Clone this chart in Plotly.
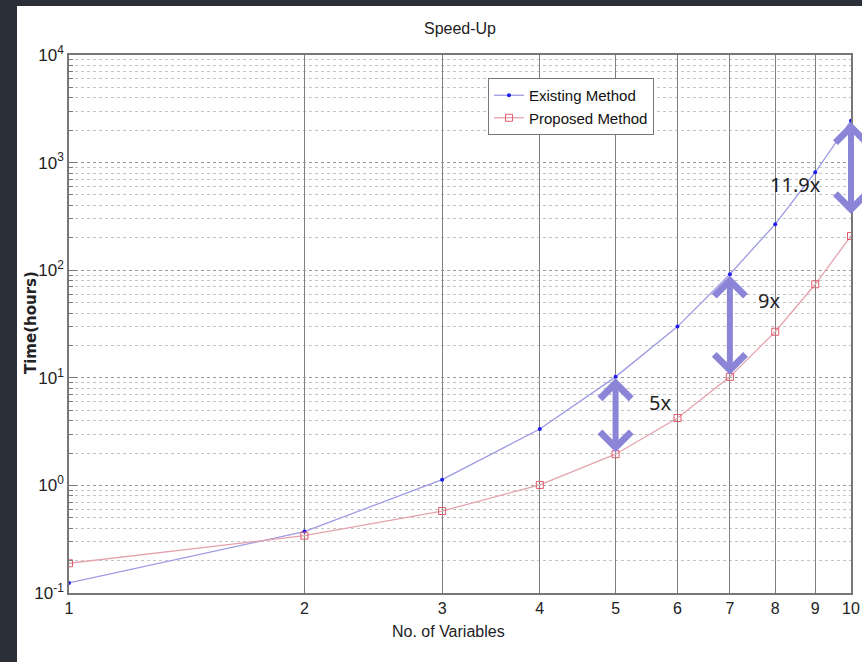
import numpy as np
import plotly.graph_objects as go

# ---------------- data ----------------
variables = [1, 2, 3, 4, 5, 6, 7, 8, 9, 10]
existing = [0.124, 0.372, 1.13, 3.34, 10.2, 29.9, 91.6, 268, 813, 2450]
proposed = [0.189, 0.341, 0.578, 1.01, 1.95, 4.23, 10.2, 26.8, 74, 208]

x_tick_vals = [1, 2, 3, 4, 5, 6, 7, 8, 9, 10]
x_tick_text = ["1", "2", "3", "4", "5", "6", "7", "8", "9", "10"]
y_tick_vals = [0.1, 1, 10, 100, 1000, 10000]
y_tick_text = ["10<sup>-1</sup>", "10<sup>0</sup>", "10<sup>1</sup>", "10<sup>2</sup>",
               "10<sup>3</sup>", "10<sup>4</sup>"]

# speed-up arrows: at which variable count, and label
speedup_at = [5, 7, 10]
speedup_labels = ["5x", "9x", "11.9x"]
label_x = [5.70, 7.85, 8.48]
label_y = [5.95, 52.8, 620]

# ---------------- styles ----------------
W, H = 862, 662
ML, MR, MT, MB = 69, 11, 55, 69
PW, PH = W - ML - MR, H - MT - MB
DARK = "#2b2f38"
COND = "Liberation Sans Narrow, Arial Narrow, Liberation Sans, sans-serif"
ARROW = "#8b85d8"
arrow_standoff = [2, 2, 22]

fig = go.Figure()
fig.add_trace(go.Scatter(
    x=variables, y=existing, name="Existing Method", mode="lines+markers",
    line=dict(color="#9d9be3", width=1.3),
    marker=dict(symbol="circle", size=4, color="#1c1cf0"),
))
fig.add_trace(go.Scatter(
    x=variables, y=proposed, name="Proposed Method", mode="lines+markers",
    line=dict(color="#e4a3ad", width=1.3),
    marker=dict(symbol="square-open", size=7, color="#e05a6a", line=dict(width=1)),
))

idx = {v: i for i, v in enumerate(variables)}
for k, v in enumerate(speedup_at):
    i = idx[v]
    lx = np.log10(v)
    top = np.log10(existing[i])
    bot = np.log10(proposed[i])
    fig.add_annotation(
        x=lx, y=bot, ax=lx, ay=top, xref="x", yref="y", axref="x", ayref="y",
        showarrow=True, arrowhead=4, startarrowhead=4, arrowside="end+start",
        arrowsize=1.0, startarrowsize=1.0, arrowwidth=6, arrowcolor=ARROW,
        standoff=arrow_standoff[k], startstandoff=0, text="",
    )
    fig.add_annotation(
        x=np.log10(label_x[k]), y=np.log10(label_y[k]), xref="x", yref="y",
        text=speedup_labels[k], showarrow=False,
        font=dict(family="Noto Sans, sans-serif", size=20, color="#1e1e1e"),
    )

# y-axis title placed as annotation
fig.add_annotation(
    x=(31 - ML) / PW, y=(MT + PH - 323) / PH, xref="paper", yref="paper", textangle=-90,
    text="<b>Time(hours)</b>", showarrow=False, xanchor="center", yanchor="middle",
    font=dict(family="DejaVu Sans, sans-serif", size=15, color="#222"),
)
# x-axis title placed as annotation
fig.add_annotation(
    x=(448 - ML) / PW, y=(MT + PH - 631) / PH, xref="paper", yref="paper",
    text="No. of Variables", showarrow=False, xanchor="center", yanchor="middle",
    font=dict(family=COND, size=16, color="#222"),
)

# white page area over dark frame
fig.add_shape(type="rect", xref="paper", yref="paper", layer="below",
              x0=(17 - ML) / PW, x1=(W + 5 - ML) / PW,
              y0=(MT + PH - H - 5) / PH, y1=(MT + PH - 6) / PH,
              fillcolor="white", line=dict(width=0))

fig.update_layout(
    width=W, height=H,
    margin=dict(l=ML, r=MR, t=MT, b=MB, autoexpand=False),
    paper_bgcolor=DARK, plot_bgcolor="white",
    title=dict(text="Speed-Up", x=(460) / W, xanchor="center", y=1 - 28 / H, yanchor="middle",
               font=dict(family=COND, size=16, color="#222")),
    showlegend=True,
    legend=dict(x=(488 - ML) / PW, y=(MT + PH - 78) / PH, xanchor="left", yanchor="top",
                bgcolor="white", bordercolor="#777", borderwidth=1,
                font=dict(family=COND, size=15, color="#111"),
                itemwidth=30, tracegroupgap=0),
)

fig.update_xaxes(
    type="log", range=[0, 1], tickvals=x_tick_vals, ticktext=x_tick_text,
    automargin=False,
    showgrid=True, gridcolor="#808080", gridwidth=1,
    showline=True, linecolor="#777", linewidth=1.5, mirror=True,
    ticks="inside", ticklen=5, tickcolor="#777",
    tickfont=dict(family=COND, size=16, color="#222"),
    zeroline=False,
)
fig.update_yaxes(
    type="log", range=[-1, 4], tickvals=y_tick_vals, ticktext=y_tick_text,
    automargin=False,
    showgrid=True, gridcolor="#9a9a9a", griddash="dot", gridwidth=1,
    showline=True, linecolor="#777", linewidth=1.5, mirror=True,
    ticks="inside", ticklen=8, tickcolor="#777",
    tickfont=dict(family="Liberation Sans, sans-serif", size=17, color="#222"),
    minor=dict(dtick="D1", showgrid=True, gridcolor="#c4c4c4", griddash="dot", gridwidth=1,
               ticks="inside", ticklen=4, tickcolor="#777"),
    zeroline=False,
)

fig.write_html("out.html")
